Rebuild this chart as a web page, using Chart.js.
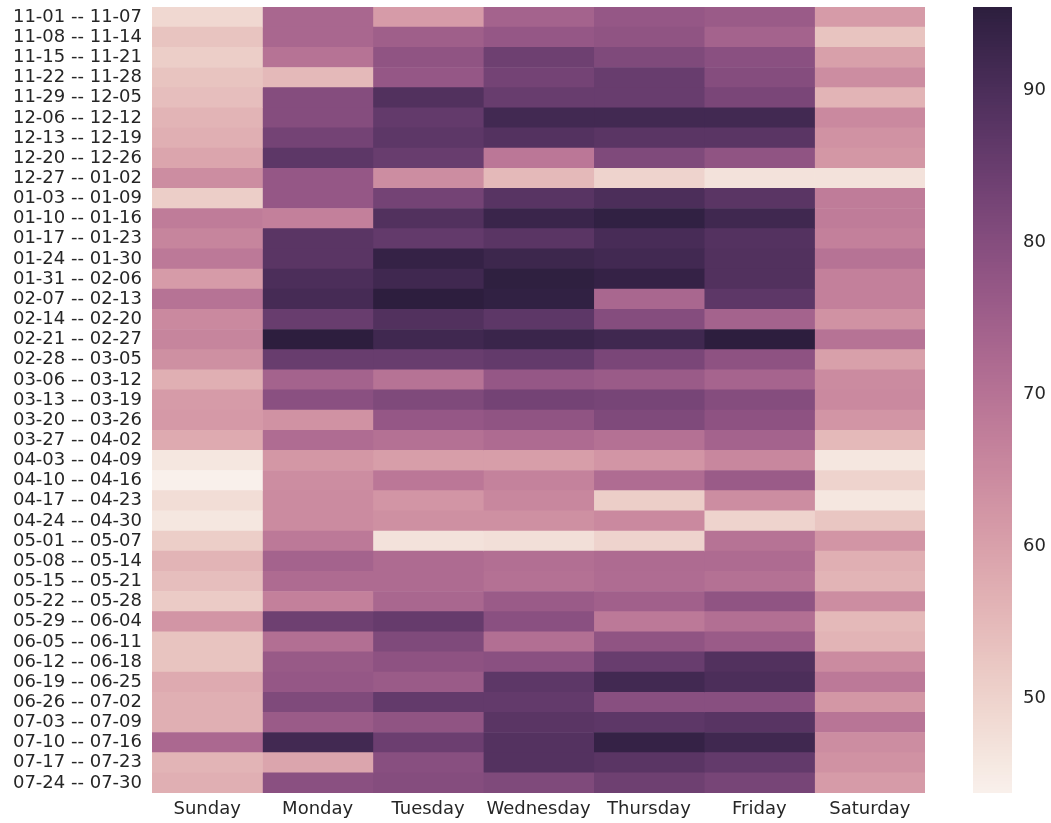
<!DOCTYPE html>
<html>
<head>
<meta charset="utf-8">
<script src="https://cdn.jsdelivr.net/npm/chart.js@4"></script>
<style>
  html, body { margin: 0; padding: 0; background: #fff; }
  #wrap { position: relative; width: 1051px; height: 823px; }
</style>
</head>
<body>
<div id="wrap"><canvas id="heatmap"></canvas></div>
<script>
const days = ["Sunday", "Monday", "Tuesday", "Wednesday", "Thursday", "Friday", "Saturday"];

const weeks = [
  "11-01 -- 11-07", "11-08 -- 11-14", "11-15 -- 11-21", "11-22 -- 11-28", "11-29 -- 12-05",
  "12-06 -- 12-12", "12-13 -- 12-19", "12-20 -- 12-26", "12-27 -- 01-02", "01-03 -- 01-09",
  "01-10 -- 01-16", "01-17 -- 01-23", "01-24 -- 01-30", "01-31 -- 02-06", "02-07 -- 02-13",
  "02-14 -- 02-20", "02-21 -- 02-27", "02-28 -- 03-05", "03-06 -- 03-12", "03-13 -- 03-19",
  "03-20 -- 03-26", "03-27 -- 04-02", "04-03 -- 04-09", "04-10 -- 04-16", "04-17 -- 04-23",
  "04-24 -- 04-30", "05-01 -- 05-07", "05-08 -- 05-14", "05-15 -- 05-21", "05-22 -- 05-28",
  "05-29 -- 06-04", "06-05 -- 06-11", "06-12 -- 06-18", "06-19 -- 06-25", "06-26 -- 07-02",
  "07-03 -- 07-09", "07-10 -- 07-16", "07-17 -- 07-23", "07-24 -- 07-30"
];

// one array per weekday, one value per week (top to bottom)
const sunday = [49, 53, 51, 53, 54, 56, 57, 59, 64, 51, 68, 66, 68.5, 61, 70, 65, 66, 63.5, 57, 61,
  61.5, 58, 46, 43.8, 48, 46, 51, 56, 54, 51.5, 62.5, 53, 53, 58, 57, 57, 72.5, 56, 57];
const monday = [73, 73, 70, 55, 80, 80, 83, 87, 77, 77, 67, 87.5, 87.5, 90, 91, 85, 95.5, 85, 74, 79,
  63, 71.5, 62, 64, 64.5, 64.5, 68.5, 74, 72, 67, 84, 71, 76.5, 77, 81, 76, 91.5, 59, 79];
const tuesday = [61, 75, 78, 77, 89, 86, 87, 85, 64, 83, 89, 86, 94, 92, 95.3, 89, 92, 85, 70, 81,
  77, 70.5, 60.5, 69, 62.5, 63.5, 47, 72, 72, 73, 85.5, 81, 78.5, 76, 86, 78, 84.5, 79.5, 80];
const wednesday = [74, 77, 84, 83, 85, 91.5, 88.5, 69, 55, 88, 93, 87.5, 92.5, 95, 94.5, 87, 93, 86, 77, 83,
  78, 72, 60.5, 66.5, 65.5, 63.5, 47.5, 71, 70.5, 76, 79, 71, 79, 87, 86, 87.5, 88.5, 88.5, 81];
const thursday = [77, 78, 81, 85, 85, 91.5, 87.5, 81, 50, 90, 94.5, 90.5, 91.5, 94, 73, 80, 92, 82, 76, 82.5,
  81, 70.5, 62.5, 71.5, 51, 65, 50, 72, 71.5, 74.5, 68.5, 78, 85, 91.5, 79.5, 87, 94, 87.5, 84];
const friday = [76, 74, 79, 80, 82, 91.5, 87.5, 78, 47, 87.5, 92, 88.5, 89, 89, 87, 74, 95.3, 78.5, 73.5, 80,
  78.5, 74, 65.5, 76, 64, 50, 70, 72, 70.5, 78, 71, 76, 89, 90, 79.5, 88, 92, 86, 82.5];
const saturday = [61, 53, 60, 64, 56, 65, 63, 62, 47, 68, 68, 67, 70, 67, 67, 63, 70, 60, 64.5, 65,
  62.5, 55, 46, 50, 46, 52.5, 62.5, 57, 56, 64, 55, 56, 64.5, 68.5, 62, 69.5, 64, 63, 61];

const colorbarTicks = [50, 60, 70, 80, 90];

const series = [sunday, monday, tuesday, wednesday, thursday, friday, saturday];
const allValues = series.flat();
const vmin = Math.min(...allValues);
const vmax = Math.max(...allValues);

// seaborn's default sequential heatmap map: cubehelix_palette(light=.95, dark=.15)
function cubehelix(x) {
  const a = 0.8 * x * (1 - x) / 2;
  const phi = 2 * Math.PI * 0.4 * x;
  const c = Math.cos(phi), s = Math.sin(phi);
  const clip = v => Math.round(Math.max(0, Math.min(1, v)) * 255);
  const r = x + a * (-0.14861 * c + 1.78277 * s);
  const g = x + a * (-0.29227 * c - 0.90649 * s);
  const b = x + a * (1.97294 * c);
  return `rgb(${clip(r)},${clip(g)},${clip(b)})`;
}

function colorFor(v) {
  let t = (v - vmin) / (vmax - vmin);
  t = Math.max(0, Math.min(1, t));
  t = Math.min(255, Math.floor(t * 256)) / 255;
  return cubehelix(0.95 - 0.8 * t);
}

const textColor = "rgb(38,38,38)";
const font = { family: "DejaVu Sans", size: 18 };

// keep the tick padding from pushing the plot area around
function fixSize(prop, size) {
  return scale => {
    scale[prop] = size;
    scale.paddingTop = 0;
    scale.paddingBottom = 0;
    scale.paddingLeft = 0;
    scale.paddingRight = 0;
  };
}

const colorbarPlugin = {
  id: "colorbar",
  afterDraw(chart) {
    const scale = chart.scales.cbar;
    const ctx = chart.ctx;
    const top = Math.round(scale.getPixelForValue(vmax));
    const bottom = Math.round(scale.getPixelForValue(vmin));
    const left = scale.left + 48;
    const width = 39;
    ctx.save();
    for (let y = top; y < bottom; y++) {
      ctx.fillStyle = colorFor(scale.getValueForPixel(y + 0.5));
      ctx.fillRect(left, y, width, 1);
    }
    ctx.restore();
  }
};

const datasets = days.map((day, i) => ({
  label: day,
  data: weeks.map(() => [i, i + 1]),
  backgroundColor: series[i].map(colorFor),
  borderWidth: 0,
  barPercentage: 1,
  categoryPercentage: 1,
  grouped: false
}));

new Chart(document.getElementById("heatmap"), {
  type: "bar",
  data: { labels: weeks, datasets: datasets },
  options: {
    indexAxis: "y",
    responsive: true,
    maintainAspectRatio: false,
    animation: false,
    events: [],
    layout: { padding: { top: 7 } },
    plugins: {
      legend: { display: false },
      tooltip: { enabled: false }
    },
    scales: {
      x: {
        type: "linear",
        min: 0,
        max: 7,
        grid: { display: false, drawTicks: false },
        border: { display: false },
        afterBuildTicks: scale => {
          scale.ticks = days.map((d, i) => ({ value: i + 0.5 }));
        },
        afterFit: fixSize("height", 30),
        ticks: {
          color: textColor,
          font: font,
          padding: 6,
          maxRotation: 0,
          autoSkip: false,
          callback: (value, index) => days[index]
        }
      },
      y: {
        type: "category",
        grid: { display: false, drawTicks: false },
        border: { display: false },
        afterFit: fixSize("width", 152),
        ticks: {
          color: textColor,
          font: font,
          padding: 10,
          autoSkip: false
        }
      },
      cbar: {
        type: "linear",
        axis: "y",
        position: "right",
        offset: false,
        bounds: "data",
        min: vmin,
        max: vmax,
        // tick marks are hidden; their length only shifts the labels past the bar
        grid: { display: false, offset: false, drawTicks: true, tickLength: 94 },
        border: { display: false },
        afterBuildTicks: scale => {
          scale.ticks = colorbarTicks.map(v => ({ value: v }));
        },
        afterFit: fixSize("width", 126),
        ticks: {
          color: textColor,
          font: font,
          padding: 4
        }
      }
    }
  },
  plugins: [colorbarPlugin]
});
</script>
</body>
</html>
